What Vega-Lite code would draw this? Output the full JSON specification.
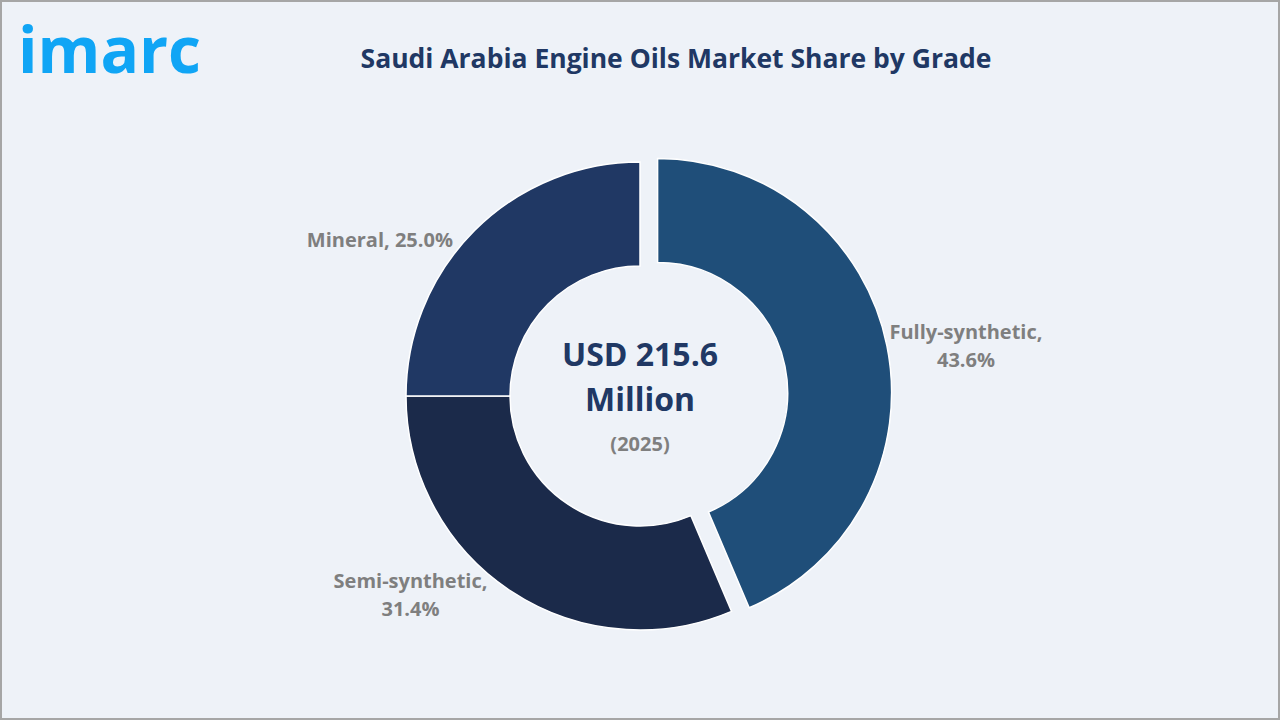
{
  "$schema": "https://vega.github.io/schema/vega-lite/v6.json",
  "width": 1280,
  "height": 720,
  "autosize": {"type": "none"},
  "padding": 0,
  "background": "#eef2f8",
  "view": {"stroke": "#a6a6a6", "strokeWidth": 4, "fill": "#eef2f8"},
  "config": {
    "font": "Open Sans"
  },
  "title": {
    "text": "Saudi Arabia Engine Oils Market Share by Grade",
    "font": "Open Sans",
    "fontSize": 26.5,
    "fontWeight": "bold",
    "color": "#203864",
    "anchor": "middle",
    "dx": 36,
    "offset": -86,
    "baseline": "middle"
  },
  "data": {
    "values": [
      {"grade": "Fully-synthetic", "share": 43.6, "order": 1, "label": "Fully-synthetic,\n43.6%"},
      {"grade": "Semi-synthetic", "share": 31.4, "order": 2, "label": "Semi-synthetic,\n31.4%"},
      {"grade": "Mineral", "share": 25.0, "order": 3, "label": "Mineral, 25.0%"}
    ]
  },
  "layer": [
    {
      "transform": [
        {"stack": "share", "groupby": [], "sort": [{"field": "order", "order": "ascending"}], "as": ["s0", "s1"]},
        {"filter": "datum.grade != 'Fully-synthetic'"}
      ],
      "mark": {"type": "arc", "radius": 234, "radius2": 130, "stroke": "white", "strokeWidth": 1.5, "yOffset": 36},
      "encoding": {
        "theta": {"field": "s0", "type": "quantitative", "scale": {"domain": [0, 100]}},
        "theta2": {"field": "s1"},
        "color": {
          "field": "grade",
          "type": "nominal",
          "scale": {"domain": ["Fully-synthetic", "Semi-synthetic", "Mineral"], "range": ["#1f4e79", "#1b2a4a", "#203864"]},
          "legend": null
        }
      }
    },
    {
      "transform": [
        {"stack": "share", "groupby": [], "sort": [{"field": "order", "order": "ascending"}], "as": ["s0", "s1"]},
        {"filter": "datum.grade == 'Fully-synthetic'"}
      ],
      "mark": {"type": "arc", "radius": 234, "radius2": 130, "stroke": "white", "strokeWidth": 1.5, "xOffset": 17.6, "yOffset": 32.4},
      "encoding": {
        "theta": {"field": "s0", "type": "quantitative", "scale": {"domain": [0, 100]}},
        "theta2": {"field": "s1"},
        "color": {
          "field": "grade",
          "type": "nominal",
          "scale": {"domain": ["Fully-synthetic", "Semi-synthetic", "Mineral"], "range": ["#1f4e79", "#1b2a4a", "#203864"]},
          "legend": null
        }
      }
    },
    {
      "mark": {
        "type": "text",
        "radius": 300,
        "yOffset": 36,
        "font": "Open Sans",
        "fontSize": 20,
        "fontWeight": "bold",
        "color": "#7f7f7f",
        "lineBreak": "\n",
        "lineHeight": 28,
        "align": "center",
        "baseline": "middle",
        "dx": {"expr": "datum.grade == 'Fully-synthetic' ? 32 : datum.grade == 'Semi-synthetic' ? -64 : -48"},
        "dy": {"expr": "datum.grade == 'Fully-synthetic' ? -3 : datum.grade == 'Semi-synthetic' ? -64 : 57"}
      },
      "encoding": {
        "theta": {"field": "share", "type": "quantitative", "stack": true, "scale": {"domain": [0, 100]}},
        "order": {"field": "order", "type": "quantitative"},
        "text": {"field": "label"}
      }
    },
    {
      "data": {"values": [{"total": "USD 215.6\nMillion", "year": "(2025)"}]},
      "layer": [
        {
          "mark": {
            "type": "text",
            "font": "Open Sans",
            "fontSize": 32,
            "fontWeight": "bold",
            "color": "#203864",
            "lineBreak": "\n",
            "lineHeight": 45,
            "align": "center",
            "baseline": "middle",
            "yOffset": 36,
            "dy": -40
          },
          "encoding": {"text": {"field": "total"}}
        },
        {
          "mark": {
            "type": "text",
            "font": "Open Sans",
            "fontSize": 20,
            "fontWeight": "bold",
            "color": "#7f7f7f",
            "align": "center",
            "baseline": "middle",
            "yOffset": 36,
            "dy": 49
          },
          "encoding": {"text": {"field": "year"}}
        }
      ]
    },
    {
      "data": {"values": [{"logo": "imarc"}]},
      "mark": {
        "type": "text",
        "font": "Open Sans",
        "fontSize": 64,
        "fontWeight": "bold",
        "color": "#10a5f5",
        "align": "left",
        "baseline": "alphabetic",
        "x": 18,
        "y": 73
      },
      "encoding": {"text": {"field": "logo"}}
    }
  ]
}
